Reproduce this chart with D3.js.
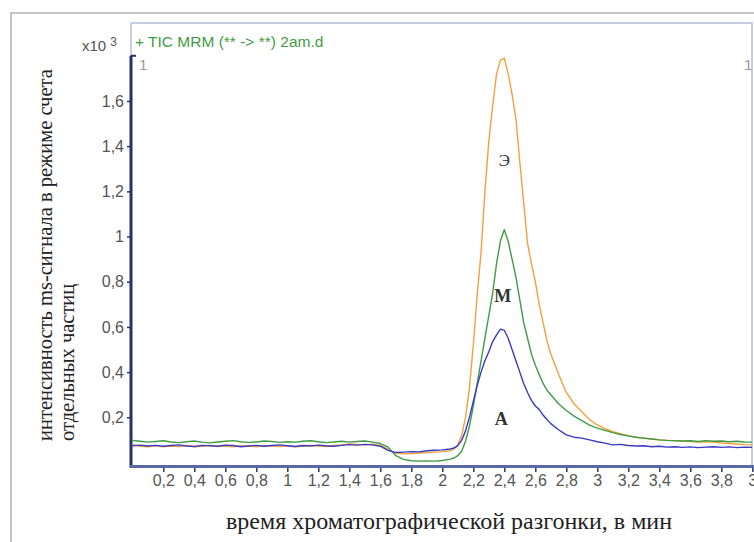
<!DOCTYPE html>
<html>
<head>
<meta charset="utf-8">
<script src="https://cdn.jsdelivr.net/npm/d3@7"></script>
<style>
  body { margin: 0; background: #fff; }
  svg { display: block; }
</style>
</head>
<body>
<svg width="754" height="542"></svg>
<script>
// retention time, min
var times = [
  0, 0.05, 0.1, 0.15, 0.2, 0.25, 0.3, 0.35, 0.4, 0.45,
  0.5, 0.55, 0.6, 0.65, 0.7, 0.75, 0.8, 0.85, 0.9, 0.95,
  1.0, 1.05, 1.1, 1.15, 1.2, 1.25, 1.3, 1.35, 1.4, 1.45,
  1.5, 1.55, 1.6, 1.65, 1.7, 1.75, 1.8, 1.85, 1.9, 1.95,
  2.0, 2.05, 2.075, 2.1, 2.125, 2.15, 2.175, 2.2, 2.225, 2.25,
  2.275, 2.3, 2.325, 2.35, 2.375, 2.4, 2.425, 2.45, 2.475, 2.5,
  2.525, 2.55, 2.575, 2.6, 2.625, 2.65, 2.675, 2.7, 2.75, 2.8,
  2.85, 2.9, 2.95, 3.0, 3.05, 3.1, 3.15, 3.2, 3.25, 3.3,
  3.35, 3.4, 3.45, 3.5, 3.55, 3.6, 3.65, 3.7, 3.75, 3.8,
  3.85, 3.9, 3.95, 4.0
];

// Э (orange), x10^3 counts
var seriesE = [
  0.078, 0.072, 0.070, 0.074, 0.069, 0.073, 0.071, 0.075, 0.070, 0.072,
  0.076, 0.071, 0.073, 0.069, 0.074, 0.072, 0.070, 0.075, 0.073, 0.071,
  0.074, 0.070, 0.072, 0.076, 0.073, 0.071, 0.075, 0.078, 0.082, 0.080,
  0.078, 0.081, 0.076, 0.058, 0.042, 0.038, 0.040, 0.042, 0.044, 0.046,
  0.048, 0.052, 0.060, 0.078, 0.12, 0.20, 0.33, 0.52, 0.74, 0.93,
  1.20, 1.42, 1.58, 1.72, 1.78, 1.79, 1.72, 1.63, 1.52, 1.33,
  1.15, 0.97, 0.88, 0.80, 0.70, 0.62, 0.54, 0.48, 0.39, 0.31,
  0.26, 0.225, 0.19, 0.166, 0.150, 0.136, 0.128, 0.118, 0.112, 0.108,
  0.104, 0.100, 0.098, 0.096, 0.094, 0.093, 0.090, 0.092, 0.090, 0.086,
  0.084, 0.082, 0.079, 0.077
];

// М (green)
var seriesM = [
  0.098, 0.094, 0.090, 0.093, 0.096, 0.091, 0.088, 0.092, 0.095, 0.090,
  0.087, 0.091, 0.094, 0.097, 0.092, 0.089, 0.091, 0.095, 0.093, 0.089,
  0.092, 0.090, 0.094, 0.096, 0.092, 0.088, 0.091, 0.094, 0.090, 0.093,
  0.095, 0.090, 0.084, 0.068, 0.030, 0.014, 0.008, 0.006, 0.007, 0.006,
  0.009, 0.015, 0.020, 0.030, 0.050, 0.095, 0.16, 0.25, 0.35, 0.45,
  0.55, 0.65, 0.75, 0.88, 0.98, 1.03, 0.98, 0.90, 0.82, 0.72,
  0.62, 0.55, 0.48, 0.43, 0.39, 0.35, 0.32, 0.30, 0.26, 0.23,
  0.205, 0.185, 0.165, 0.152, 0.142, 0.132, 0.124, 0.118, 0.112, 0.108,
  0.104, 0.100, 0.098, 0.097, 0.095, 0.096, 0.093, 0.097, 0.094, 0.095,
  0.092, 0.094, 0.091, 0.090
];

// А (blue)
var seriesA = [
  0.074, 0.077, 0.073, 0.076, 0.072, 0.075, 0.078, 0.073, 0.071, 0.076,
  0.074, 0.072, 0.077, 0.075, 0.070, 0.073, 0.076, 0.072, 0.075, 0.078,
  0.074, 0.071, 0.075, 0.073, 0.077, 0.074, 0.072, 0.076, 0.079, 0.077,
  0.080, 0.078, 0.072, 0.054, 0.044, 0.046, 0.048, 0.047, 0.052, 0.054,
  0.056, 0.060, 0.064, 0.075, 0.098, 0.14, 0.20, 0.27, 0.34, 0.40,
  0.45, 0.49, 0.535, 0.565, 0.59, 0.585, 0.55, 0.50, 0.45, 0.40,
  0.35, 0.31, 0.275, 0.25, 0.235, 0.21, 0.19, 0.172, 0.145, 0.122,
  0.112, 0.108, 0.100, 0.092, 0.086, 0.078, 0.080, 0.075, 0.073, 0.074,
  0.070, 0.072, 0.068, 0.070, 0.067, 0.069, 0.066, 0.068, 0.070, 0.067,
  0.069, 0.066, 0.068, 0.067
];

var xTicks = [0.2, 0.4, 0.6, 0.8, 1, 1.2, 1.4, 1.6, 1.8, 2, 2.2, 2.4, 2.6, 2.8, 3, 3.2, 3.4, 3.6, 3.8, 4];
var xTickLabels = ['0,2', '0,4', '0,6', '0,8', '1', '1,2', '1,4', '1,6', '1,8', '2', '2,2', '2,4', '2,6', '2,8', '3', '3,2', '3,4', '3,6', '3,8', '3'];
var yTicks = [0.2, 0.4, 0.6, 0.8, 1, 1.2, 1.4, 1.6];
var yTickLabels = ['0,2', '0,4', '0,6', '0,8', '1', '1,2', '1,4', '1,6'];

var seriesNames = ['Э', 'М', 'А'];
var seriesColors = ['#f2a23c', '#3f9c45', '#3a3ac4'];

// ---------------------------------------------------------
// Layout
var plot = { left: 131, right: 752, top: 23, bottom: 462.5 };

var svg = d3.select('svg');

var xScale = d3.scaleLinear().domain([0, 4]).range([132.3, 752.3]);
var yScale = d3.scaleLinear().domain([0, 1.945]).range([plot.bottom, plot.top]);

// outer window frame
svg.append('path')
    .attr('d', 'M11,542 V13 H754')
    .attr('fill', 'none')
    .attr('stroke', '#c4c4c4')
    .attr('stroke-width', 2);

// plot frame (top, right)
svg.append('path')
    .attr('d', `M${plot.left},${plot.top} H${plot.right} V466`)
    .attr('fill', 'none')
    .attr('stroke', '#b4bcd8')
    .attr('stroke-width', 1.5);
svg.append('line')
    .attr('x1', plot.left).attr('x2', plot.left)
    .attr('y1', plot.top).attr('y2', 56)
    .attr('stroke', '#b4bcd8')
    .attr('stroke-width', 1.5);

svg.append('defs').append('clipPath').attr('id', 'clip')
    .append('rect')
    .attr('x', plot.left + 1).attr('y', plot.top)
    .attr('width', plot.right - plot.left - 1)
    .attr('height', 466 - plot.top);

// ---------------------------------------------------------
// Axes
var yAxis = d3.axisLeft(yScale)
    .tickValues(yTicks)
    .tickFormat((d, i) => yTickLabels[i])
    .tickSize(4)
    .tickPadding(3);
var gy = svg.append('g')
    .attr('transform', `translate(${plot.left},0)`)
    .call(yAxis)
    .attr('font-family', '"Liberation Sans", Arial, sans-serif')
    .attr('font-size', 16);
gy.select('.domain').remove();
gy.selectAll('.tick line').attr('stroke', '#2c3470').attr('stroke-width', 1.5);
gy.selectAll('.tick text').attr('fill', '#555');

var xAxis = d3.axisBottom(xScale)
    .tickValues(xTicks)
    .tickFormat((d, i) => xTickLabels[i])
    .tickSize(5)
    .tickPadding(3);
var gx = svg.append('g')
    .attr('transform', 'translate(0,467)')
    .call(xAxis)
    .attr('font-family', '"Liberation Sans", Arial, sans-serif')
    .attr('font-size', 16);
gx.select('.domain').remove();
gx.selectAll('.tick line').attr('stroke', '#2c3470').attr('stroke-width', 1.5);
gx.selectAll('.tick text').attr('fill', '#555');

// thick axis bars
svg.append('line')
    .attr('x1', plot.left).attr('x2', plot.left)
    .attr('y1', yScale(1.8)).attr('y2', 468)
    .attr('stroke', '#27306e')
    .attr('stroke-width', 3);
svg.append('line')
    .attr('x1', plot.left - 1).attr('x2', 754)
    .attr('y1', 466.5).attr('y2', 466.5)
    .attr('stroke', '#5b68a8')
    .attr('stroke-width', 3);
svg.append('line')
    .attr('x1', plot.left).attr('x2', plot.left + 5)
    .attr('y1', yScale(1.8)).attr('y2', yScale(1.8))
    .attr('stroke', '#27306e')
    .attr('stroke-width', 2);

// ---------------------------------------------------------
// Traces
var allSeries = [seriesE, seriesM, seriesA];
var line = d3.line()
    .x((d, i) => xScale(times[i]))
    .y((d) => yScale(d));

svg.append('g')
    .attr('clip-path', 'url(#clip)')
    .selectAll('path')
    .data(allSeries)
    .enter()
    .append('path')
    .attr('d', (d) => line(d))
    .attr('fill', 'none')
    .attr('stroke', (d, i) => seriesColors[i])
    .attr('stroke-width', 1.4)
    .attr('stroke-linejoin', 'round');

// peak labels
var labelAt = [
  { t: 2.4, v: 1.31 },
  { t: 2.39, v: 0.71 },
  { t: 2.38, v: 0.168 }
];
svg.selectAll('.peak-label')
    .data(labelAt)
    .enter()
    .append('text')
    .attr('class', 'peak-label')
    .attr('x', (d) => xScale(d.t))
    .attr('y', (d) => yScale(d.v))
    .attr('text-anchor', 'middle')
    .attr('font-family', '"Liberation Serif", "Times New Roman", serif')
    .attr('font-weight', (d, i) => (i === 0 ? 'normal' : 'bold'))
    .attr('font-size', (d, i) => (i === 0 ? '17px' : '18px'))
    .attr('fill', '#333')
    .text((d, i) => seriesNames[i]);

// ---------------------------------------------------------
// Header texts
svg.append('text')
    .attr('x', 135).attr('y', 47)
    .attr('font-family', '"Liberation Sans", Arial, sans-serif')
    .attr('font-size', '15.5px')
    .attr('fill', '#3f9c45')
    .text('+ TIC MRM (** -> **) 2am.d');

var xl = svg.append('text')
    .attr('x', 82).attr('y', 51)
    .attr('font-family', '"Liberation Sans", Arial, sans-serif')
    .attr('font-size', '15px')
    .attr('fill', '#555');
xl.append('tspan').text('x10 ');
xl.append('tspan').attr('dy', -5).attr('font-size', '12px').text('3');

svg.selectAll('.scan')
    .data([139, 744])
    .enter()
    .append('text')
    .attr('class', 'scan')
    .attr('x', (d) => d).attr('y', 70)
    .attr('font-family', '"Liberation Sans", Arial, sans-serif')
    .attr('font-size', '15px')
    .attr('fill', '#9a9a9a')
    .text('1');

// ---------------------------------------------------------
// Axis titles
svg.append('text')
    .attr('x', 449).attr('y', 529)
    .attr('text-anchor', 'middle')
    .attr('font-family', '"Liberation Serif", "Times New Roman", serif')
    .attr('font-size', '24px')
    .attr('fill', '#222')
    .text('время хроматографической разгонки, в мин');

var yTitle = ['интенсивность ms-сигнала в режиме счета', 'отдельных частиц'];
svg.selectAll('.ytitle')
    .data(yTitle)
    .enter()
    .append('text')
    .attr('class', 'ytitle')
    .attr('transform', (d, i) => `translate(${52 + i * 22},441) rotate(-90)`)
    .attr('font-family', '"Liberation Serif", "Times New Roman", serif')
    .attr('font-size', '20.5px')
    .attr('fill', '#222')
    .text((d) => d);
</script>
</body>
</html>
